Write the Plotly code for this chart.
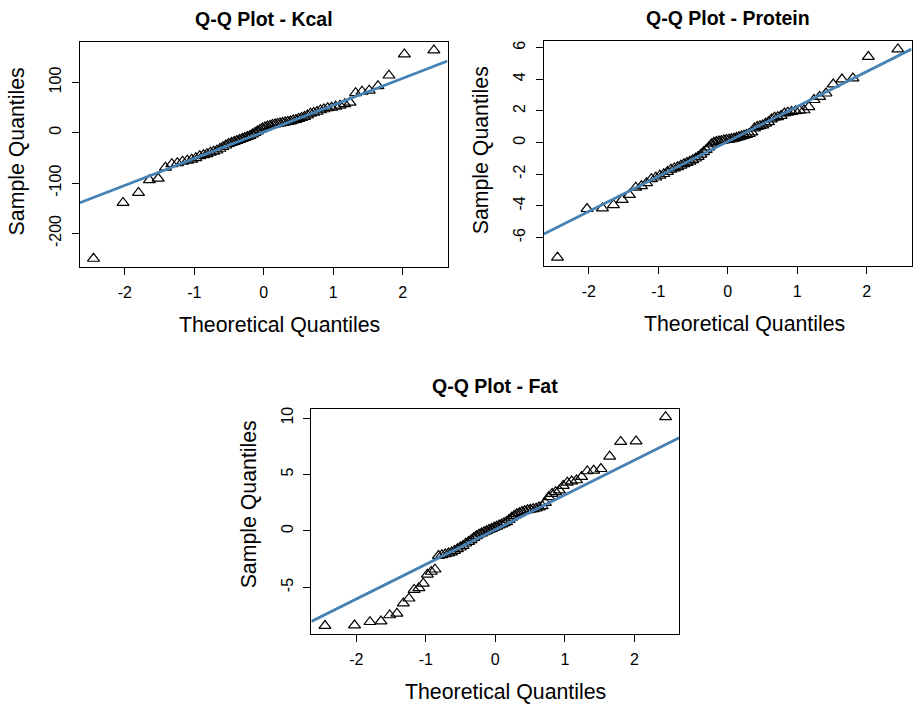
import numpy as np
import plotly.graph_objects as go

# Theoretical normal quantiles for n = 70 (ppoints)
theoretical = [
    -2.450, -2.025, -1.803, -1.645, -1.519, -1.415, -1.323, -1.242, -1.168, -1.099,
    -1.036, -0.977, -0.921, -0.867, -0.817, -0.768, -0.720, -0.674, -0.630, -0.587,
    -0.545, -0.504, -0.464, -0.425, -0.385, -0.347, -0.309, -0.272, -0.235, -0.198,
    -0.162, -0.126, -0.090, -0.054, -0.018, 0.018, 0.054, 0.090, 0.126, 0.162,
    0.198, 0.235, 0.272, 0.309, 0.347, 0.385, 0.425, 0.464, 0.504, 0.545,
    0.587, 0.630, 0.674, 0.720, 0.768, 0.817, 0.867, 0.921, 0.977, 1.036,
    1.099, 1.168, 1.242, 1.323, 1.415, 1.519, 1.645, 1.803, 2.025, 2.450,
]

kcal = [
    -250, -139, -119, -94, -91, -69, -62, -60, -57, -55,
    -53, -50, -46, -44, -42, -39, -37, -35, -31.5, -28,
    -25, -22, -20, -18, -16, -14, -12, -10, -8, -6,
    -3, 0, 3, 6, 9, 11, 13, 14, 16, 17,
    18, 19, 20, 21, 22, 23, 25, 26, 28, 30,
    32, 35, 38.5, 40, 42, 45, 47, 49, 50, 52,
    54, 57, 60, 79, 82, 84, 93, 114, 156, 164,
]

protein = [
    -7.26, -4.19, -4.15, -3.94, -3.62, -3.30, -2.84, -2.75, -2.55, -2.30,
    -2.20, -2.08, -1.98, -1.85, -1.70, -1.62, -1.55, -1.45, -1.35, -1.28,
    -1.20, -1.10, -1.00, -0.90, -0.75, -0.60, -0.45, -0.30, -0.10, 0.00,
    0.05, 0.08, 0.12, 0.15, 0.18, 0.20, 0.22, 0.25, 0.30, 0.35,
    0.40, 0.45, 0.50, 0.55, 0.65, 0.90, 1.00, 1.05, 1.10, 1.20,
    1.30, 1.48, 1.58, 1.62, 1.70, 1.85, 1.90, 1.95, 2.00, 2.02,
    2.05, 2.25, 2.70, 2.90, 3.11, 3.68, 4.00, 4.06, 5.42, 5.90,
]

fat = [
    -8.40, -8.35, -8.05, -8.00, -7.45, -7.30, -6.40, -5.97, -5.20, -5.05,
    -4.65, -3.85, -3.60, -3.40, -2.20, -2.12, -2.05, -1.98, -1.88, -1.75,
    -1.60, -1.45, -1.30, -1.10, -0.95, -0.80, -0.60, -0.45, -0.30, -0.20,
    -0.10, 0.00, 0.10, 0.20, 0.30, 0.40, 0.50, 0.60, 0.70, 0.80,
    1.00, 1.20, 1.35, 1.50, 1.60, 1.70, 1.78, 1.85, 1.90, 1.95,
    2.00, 2.10, 2.22, 2.50, 3.00, 3.30, 3.45, 3.60, 4.00, 4.30,
    4.40, 4.50, 4.80, 5.30, 5.35, 5.50, 6.60, 7.90, 7.95, 10.10,
]

titles = ["Q-Q Plot - Kcal", "Q-Q Plot - Protein", "Q-Q Plot - Fat"]
x_ticks = [-2, -1, 0, 1, 2]
y_ticks = [[-200, -100, 0, 100], [-6, -4, -2, 0, 2, 4, 6], [-5, 0, 5, 10]]

W, H = 913, 704
# panel pixel boxes: (left, right, top, bottom)
panels = [(80, 448, 40, 265.7), (544.5, 912.5, 39, 264.5), (311.7, 680, 407.7, 634)]
# small offsets of axis titles as seen in the original
xtitle_dx = [16, 16.5, 10.7]
ytitle_dy = [-3, -3, -17.5]

FONT = "Liberation Sans, Arial, Helvetica, sans-serif"
LINE_COLOR = "#4682B4"

fig = go.Figure()
layout = dict(
    width=W, height=H, margin=dict(l=0, r=0, t=0, b=0),
    paper_bgcolor="white", plot_bgcolor="white", showlegend=False,
    font=dict(family=FONT, color="black"),
)
annotations = []

def rng(vals):
    lo, hi = min(vals), max(vals)
    pad = (hi - lo) * 0.04
    return [lo - pad, hi + pad]

for k, (sample, title, yt, box) in enumerate(zip([kcal, protein, fat], titles, y_ticks, panels)):
    assert len(sample) == len(theoretical)
    xa = "x" if k == 0 else f"x{k+1}"
    ya = "y" if k == 0 else f"y{k+1}"
    l, r, t, b = box
    xr = rng(theoretical)
    yr = rng(sample)

    fig.add_trace(go.Scatter(
        x=theoretical, y=sample, mode="markers", xaxis=xa, yaxis=ya,
        marker=dict(symbol="triangle-up-open", size=10.5, color="black",
                    line=dict(width=1.2, color="black")),
        hoverinfo="x+y",
    ))
    # qqline through the quartiles
    q1, q3 = np.quantile(sample, [0.25, 0.75])
    z1, z3 = -0.6744898, 0.6744898
    slope = (q3 - q1) / (z3 - z1)
    inter = q1 - slope * z1
    fig.add_trace(go.Scatter(
        x=xr, y=[inter + slope * xr[0], inter + slope * xr[1]], mode="lines",
        xaxis=xa, yaxis=ya, line=dict(color=LINE_COLOR, width=2.8), hoverinfo="skip",
    ))

    axis_common = dict(
        showgrid=False, zeroline=False, showline=True, mirror=True,
        linecolor="black", linewidth=1.2, ticks="outside", ticklen=7,
        tickwidth=1, tickcolor="black",
        tickfont=dict(family=FONT, size=16, color="black"),
    )
    xkey = "xaxis" if k == 0 else f"xaxis{k+1}"
    ykey = "yaxis" if k == 0 else f"yaxis{k+1}"
    layout[xkey] = dict(axis_common, domain=[l / W, r / W], range=xr,
                        anchor=ya, tickmode="array", tickvals=x_ticks,
                        ticktext=[str(v) for v in x_ticks], ticklabelstandoff=4)
    layout[ykey] = dict(axis_common, domain=[1 - b / H, 1 - t / H], range=yr,
                        anchor=xa, tickmode="array", tickvals=yt,
                        ticktext=[str(v) for v in yt], tickangle=-90,
                        ticklabelstandoff=4)

    cx = (l + r) / 2
    cy = (t + b) / 2
    annotations.append(dict(text=f"<b>{title}</b>", x=cx / W, y=1 - (t - 23) / H,
                            xref="paper", yref="paper", showarrow=False,
                            font=dict(family=FONT, size=19.5, color="black"),
                            xanchor="center", yanchor="middle"))
    annotations.append(dict(text="Theoretical Quantiles", x=(cx + xtitle_dx[k]) / W,
                            y=1 - (b + 58) / H,
                            xref="paper", yref="paper", showarrow=False,
                            font=dict(family=FONT, size=21.3, color="black"),
                            xanchor="center", yanchor="middle"))
    annotations.append(dict(text="Sample Quantiles", x=(l - 63) / W,
                            y=1 - (cy + ytitle_dy[k]) / H,
                            xref="paper", yref="paper", showarrow=False, textangle=-90,
                            font=dict(family=FONT, size=21.3, color="black"),
                            xanchor="center", yanchor="middle"))

layout["annotations"] = annotations
fig.update_layout(**layout)
fig.write_html("out.html")
